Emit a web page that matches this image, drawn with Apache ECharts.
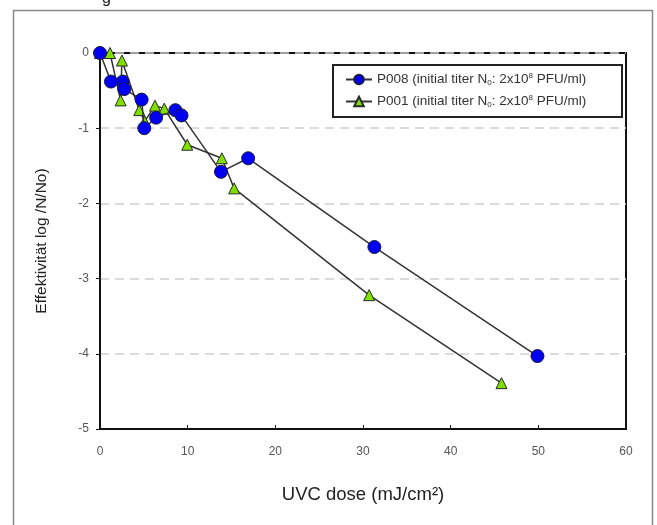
<!DOCTYPE html>
<html>
<head>
<meta charset="utf-8">
<script src="https://cdn.jsdelivr.net/npm/echarts@6/dist/echarts.min.js"></script>
<style>
  html, body { margin: 0; padding: 0; background: #fff; }
  #chart { width: 657px; height: 525px; }
</style>
</head>
<body>
<div id="chart"></div>
<script>
// P008 - blue circles (dose, log N/No)
const p008Dose = [0, 1.25, 2.6, 2.77, 4.75, 5.05, 6.4, 8.6, 9.3, 13.8, 16.9, 31.3, 49.9];
const p008Log = [0, -0.38, -0.38, -0.48, -0.62, -1.0, -0.86, -0.76, -0.83, -1.58, -1.40, -2.58, -4.03];

// P001 - green triangles
const p001Dose = [0, 1.14, 2.35, 2.5, 4.48, 5.1, 6.27, 7.33, 9.95, 13.9, 15.3, 30.7, 45.8];
const p001Log = [0, 0, -0.63, -0.1, -0.76, -0.91, -0.70, -0.74, -1.22, -1.40, -1.80, -3.22, -4.39];

const xTicks = [0, 10, 20, 30, 40, 50, 60];
const yTicks = [-5, -4, -3, -2, -1, 0];

const zip = (a, b) => a.map((v, i) => [v, b[i]]);

const chart = echarts.init(document.getElementById('chart'));

const legendRich = {
    sub: { fontSize: 8, verticalAlign: 'bottom', padding: [7, 0, 0, 0], color: '#333' },
    sup: { fontSize: 8, verticalAlign: 'top', padding: [0, 0, 7, 0], color: '#333' }
};

const option = {
    animation: false,
    backgroundColor: '#fff',
    textStyle: { fontFamily: 'Liberation Sans, Arial, sans-serif' },
    graphic: [
        {
            type: 'rect',
            shape: { x: 13.5, y: 10.5, width: 639, height: 540 },
            style: { fill: 'none', stroke: '#8a8a8a', lineWidth: 1.5 },
            silent: true
        },
        {
            type: 'text',
            left: 102, top: -9,
            style: { text: 'g', fontSize: 16, fill: '#222', fontFamily: 'Liberation Sans, Arial' }
        },
        {
            type: 'rect',
            shape: { x: 333, y: 65, width: 289, height: 52 },
            style: { fill: '#fff', stroke: '#222', lineWidth: 2 },
            z: 5
        }
    ],
    grid: {
        left: 100, top: 53, width: 526, height: 376,
        show: true, borderColor: '#111', borderWidth: 2, backgroundColor: 'transparent'
    },
    legend: {
        left: 340, top: 67,
        orient: 'vertical',
        itemGap: 7,
        itemWidth: 26,
        itemHeight: 12,
        z: 10,
        textStyle: { fontSize: 13.5, color: '#333', rich: legendRich },
        formatter: function (name) {
            return name + ' (initial titer N{sub|0}: 2x10{sup|8} PFU/ml)';
        },
        data: ['P008', 'P001']
    },
    xAxis: {
        type: 'value',
        min: 0, max: 60, interval: 10,
        name: 'UVC dose (mJ/cm²)',
        nameLocation: 'middle',
        nameGap: 56,
        nameTextStyle: { fontSize: 18.5, color: '#222' },
        axisLine: { show: true, onZero: false, lineStyle: { color: '#111', width: 2 } },
        axisTick: { show: true, inside: true, length: 4, lineStyle: { color: '#111' } },
        axisLabel: {
            margin: 17, fontSize: 12, color: '#555',
            formatter: v => xTicks.includes(v) ? String(v) : ''
        },
        splitLine: { show: false }
    },
    yAxis: {
        type: 'value',
        min: -5, max: 0, interval: 1,
        name: 'Effektivität log /N/No)',
        nameLocation: 'middle',
        nameGap: 50,
        nameTextStyle: { fontSize: 15.5, color: '#222' },
        axisLine: { show: true, onZero: false, lineStyle: { color: '#111', width: 2 } },
        axisTick: { show: true, length: 4, lineStyle: { color: '#111' } },
        axisLabel: {
            margin: 11, fontSize: 12, color: '#555',
            formatter: v => yTicks.includes(v) ? String(v) : ''
        },
        splitLine: { show: true, lineStyle: { color: '#cfcfcf', type: [9, 6], width: 1.5 } }
    },
    series: [
        {
            name: 'P001',
            type: 'line',
            data: zip(p001Dose, p001Log),
            symbol: 'triangle',
            symbolSize: 11,
            itemStyle: { color: '#7fe000', borderColor: '#2a2a2a', borderWidth: 1 },
            lineStyle: { color: '#333', width: 1.5 },
            z: 3
        },
        {
            name: 'P008',
            type: 'line',
            data: zip(p008Dose, p008Log),
            symbol: 'circle',
            symbolSize: 13,
            itemStyle: { color: '#0000f0', borderColor: '#1a1a40', borderWidth: 1 },
            lineStyle: { color: '#333', width: 1.5 },
            z: 4
        }
    ]
};

chart.setOption(option);
</script>
</body>
</html>
